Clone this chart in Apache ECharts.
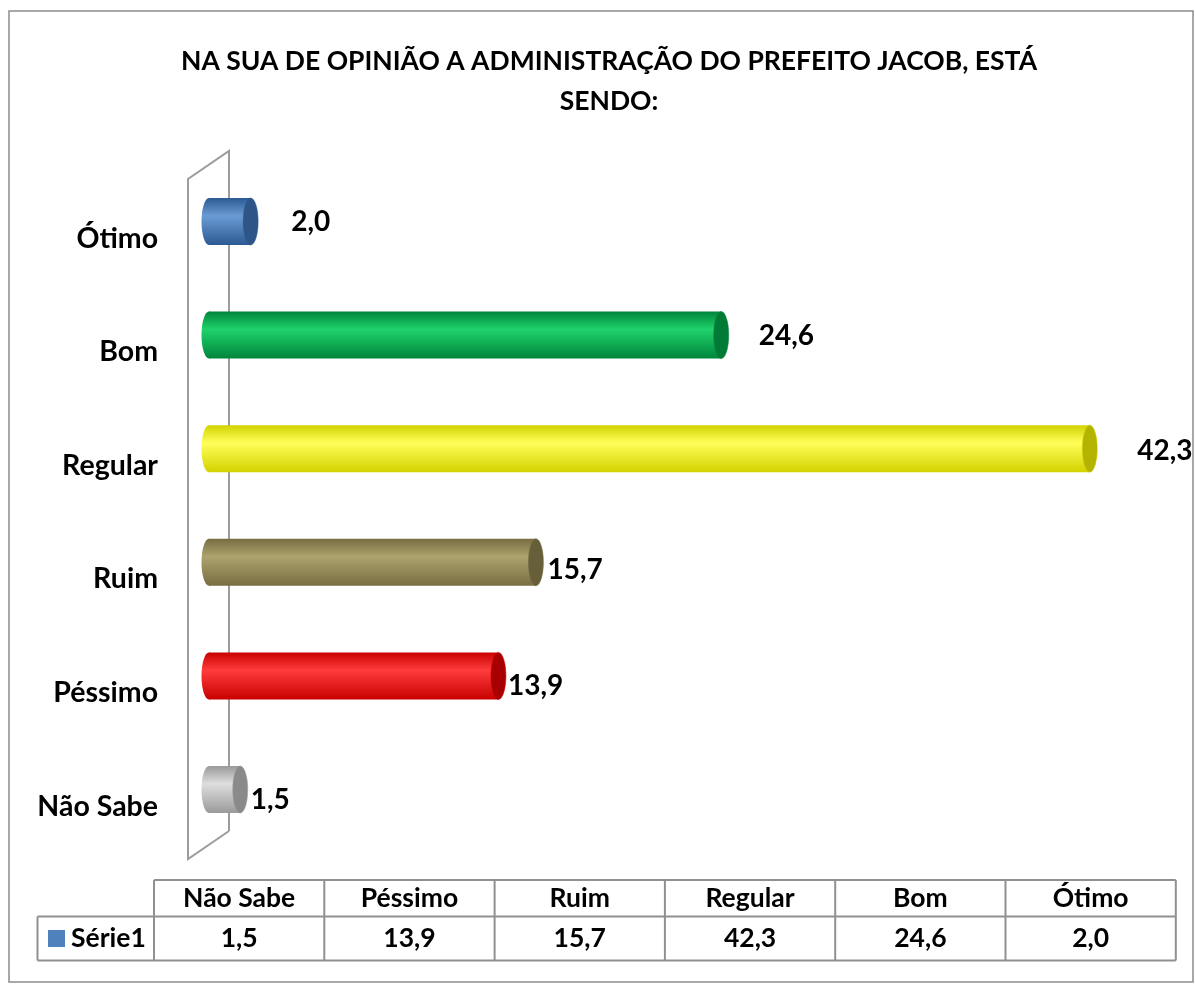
<!DOCTYPE html>
<html>
<head>
    <meta charset="utf-8">
    <title>Administração do Prefeito Jacob</title>
    <script type="text/javascript" src="https://cdn.jsdelivr.net/npm/echarts@6/dist/echarts.min.js"></script>
    <style>
        html, body {
            margin: 0;
            padding: 0;
            background: #fff;
        }

        #chart {
            width: 1195px;
            height: 984px;
        }
    </style>
</head>
<body>
<div id="chart"></div>
<script type="text/javascript">
    // dados (ordem da tabela, de baixo para cima no gráfico)
    var categories = ['Não Sabe', 'Péssimo', 'Ruim', 'Regular', 'Bom', 'Ótimo'];
    var values = [1.5, 13.9, 15.7, 42.3, 24.6, 2.0];
    var seriesName = 'Série1';

    // cores de cada cilindro: [escuro, claro, tampa]
    var barColors = [
        ['#9a9a9a', '#dedede', '#8a8a8a'],
        ['#c80000', '#ff3c3c', '#a80000'],
        ['#776d41', '#aca36e', '#675f39'],
        ['#d2d200', '#ffff5a', '#b4b400'],
        ['#00853b', '#1fd26b', '#007a35'],
        ['#2c5a93', '#6b9bd4', '#2e5587']
    ];
    // ajuste fino dos rótulos (px)
    var labelDx = [1, 0, 2, 38, 28, 31];
    var labelDy = [10, 10, 8, 2, 1, 0];

    var FONT = 'Lato, "Open Sans", sans-serif';

    function fmt(v) {
        return v.toFixed(1).replace('.', ',');
    }

    function renderItem(params, api) {
        var i = api.value(0);
        var v = api.value(1);
        var p0 = api.coord([0, i]);
        var p1 = api.coord([v, i]);
        var band = api.size([0, 1])[1];
        var ry = band * 0.207;
        var rx = 7.5;
        var c = barColors[i];
        var grad = new echarts.graphic.LinearGradient(0, 0, 0, 1, [
            {offset: 0, color: c[0]},
            {offset: 0.38, color: c[1]},
            {offset: 1, color: c[0]}
        ]);
        return {
            type: 'group',
            children: [{
                type: 'ellipse',
                shape: {cx: p0[0], cy: p0[1], rx: rx, ry: ry},
                style: {fill: grad}
            }, {
                type: 'rect',
                shape: {x: p0[0], y: p0[1] - ry, width: p1[0] - p0[0], height: ry * 2},
                style: {fill: grad}
            }, {
                type: 'ellipse',
                shape: {cx: p1[0], cy: p1[1], rx: rx, ry: ry},
                style: {fill: c[2], stroke: c[0], lineWidth: 0.5}
            }, {
                type: 'text',
                style: {
                    x: p1[0] + rx + 2 + labelDx[i],
                    y: p1[1] + labelDy[i],
                    text: fmt(v),
                    fill: '#000',
                    font: 'bold 28px ' + FONT,
                    verticalAlign: 'middle'
                }
            }]
        };
    }

    // tabela de dados
    var tblLeft = 154, colW = 170.3, rowTop = 880, rowMid = 916.5, rowBot = 960.5, keyLeft = 37.5;
    var tableEls = [];
    var lineStyle = {stroke: '#909090', lineWidth: 2};
    var tblRight = tblLeft + colW * categories.length;
    tableEls.push({type: 'line', shape: {x1: tblLeft, y1: rowTop, x2: tblRight, y2: rowTop}, style: lineStyle});
    tableEls.push({type: 'line', shape: {x1: keyLeft, y1: rowMid, x2: tblRight, y2: rowMid}, style: lineStyle});
    tableEls.push({type: 'line', shape: {x1: keyLeft, y1: rowBot, x2: tblRight, y2: rowBot}, style: lineStyle});
    tableEls.push({type: 'line', shape: {x1: keyLeft, y1: rowMid, x2: keyLeft, y2: rowBot}, style: lineStyle});
    for (var k = 0; k <= categories.length; k++) {
        var xx = tblLeft + colW * k;
        tableEls.push({type: 'line', shape: {x1: xx, y1: rowTop, x2: xx, y2: rowBot}, style: lineStyle});
    }
    categories.forEach(function (name, k) {
        var cx = tblLeft + colW * (k + 0.5);
        tableEls.push({
            type: 'text',
            style: {x: cx, y: (rowTop + rowMid) / 2, text: name, align: 'center', verticalAlign: 'middle',
                font: 'bold 26.5px ' + FONT, fill: '#000'}
        });
        tableEls.push({
            type: 'text',
            style: {x: cx, y: (rowMid + rowBot) / 2, text: fmt(values[k]), align: 'center', verticalAlign: 'middle',
                font: 'bold 26.5px ' + FONT, fill: '#000'}
        });
    });
    tableEls.push({type: 'rect', shape: {x: 48, y: 930, width: 17, height: 17}, style: {fill: '#4f81bd'}});
    tableEls.push({
        type: 'text',
        style: {x: 71, y: (rowMid + rowBot) / 2, text: seriesName, verticalAlign: 'middle',
            font: 'bold 26.5px ' + FONT, fill: '#000'}
    });

    // parede 3D à esquerda
    var wallStyle = {stroke: '#9c9c9c', lineWidth: 2, fill: null};
    var wallEls = [{
        type: 'polyline',
        shape: {points: [[229, 831], [188, 859], [188, 179], [229, 151], [229, 831]]},
        style: wallStyle,
        z: -1
    }];

    var option = {
        animation: false,
        backgroundColor: '#fff',
        title: {
            text: 'NA SUA DE OPINIÃO A ADMINISTRAÇÃO DO PREFEITO JACOB, ESTÁ\nSENDO:',
            left: 604,
            top: 36,
            textAlign: 'center',
            textStyle: {
                fontFamily: FONT,
                fontWeight: 'bold',
                fontSize: 26.5,
                lineHeight: 40,
                color: '#000'
            }
        },
        grid: {
            left: 209,
            top: 164.7,
            width: 937,
            height: 681.6
        },
        xAxis: {
            type: 'value',
            min: 0,
            max: 45,
            show: false
        },
        yAxis: {
            type: 'category',
            data: categories,
            axisLine: {show: false},
            axisTick: {show: false},
            splitLine: {show: false},
            axisLabel: {
                margin: 51,
                color: '#000',
                fontFamily: FONT,
                fontWeight: 'bold',
                fontSize: 28.5,
                verticalAlign: 'top',
                lineHeight: 34
            }
        },
        graphic: [{
            type: 'rect',
            shape: {x: 9, y: 11, width: 1184, height: 971},
            style: {fill: null, stroke: '#8c8c8c', lineWidth: 1.5},
            z: -2
        }].concat(wallEls).concat(tableEls),
        series: [{
            name: seriesName,
            type: 'custom',
            renderItem: renderItem,
            encode: {x: 1, y: 0},
            z: 5,
            data: values.map(function (v, i) {
                return [i, v];
            })
        }]
    };

    var myChart = echarts.init(document.getElementById('chart'));
    myChart.setOption(option);
</script>
</body>
</html>
